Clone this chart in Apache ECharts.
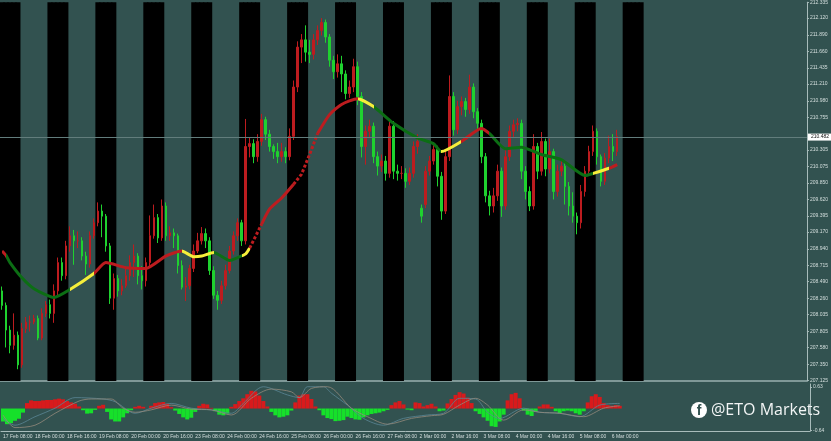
<!DOCTYPE html>
<html><head><meta charset="utf-8">
<style>html,body{margin:0;padding:0;background:#325250}#c{width:831px;height:441px}</style>
<script src="https://cdn.jsdelivr.net/npm/echarts@6/dist/echarts.min.js"></script>
</head><body><div id="c"></div>
<script>
const closes=[208.16,207.82,207.61,207.75,207.34,207.84,207.93,207.93,207.98,207.71,208.05,208.17,208.05,208.36,208.75,208.57,208.98,209.12,209.05,209.05,208.84,208.73,209.12,209.30,209.46,209.39,208.98,208.26,208.53,208.36,208.43,208.57,208.75,208.84,208.57,208.50,208.75,209.12,209.37,209.09,209.53,209.12,209.16,209.12,208.71,208.41,208.43,208.67,208.91,209.05,209.15,209.05,208.64,208.30,208.23,208.43,208.64,208.91,209.12,209.30,209.05,210.35,210.39,210.21,210.42,210.72,210.52,210.35,210.28,210.21,210.28,210.21,210.49,211.17,211.72,211.82,211.65,211.62,211.82,211.95,212.06,211.86,211.54,211.38,211.49,211.35,211.08,211.17,211.45,211.04,210.35,210.56,210.63,210.21,210.08,210.15,209.98,210.63,210.01,209.98,209.98,209.87,209.98,210.35,210.42,209.39,210.01,210.15,210.31,209.94,209.46,210.21,211.04,210.58,210.90,210.97,210.86,211.17,210.83,210.67,210.21,209.67,209.53,209.67,210.01,209.53,210.21,210.56,210.65,210.67,210.01,209.73,209.53,210.35,210.01,210.42,210.04,210.28,209.73,210.01,210.08,209.80,209.53,209.39,209.30,209.73,210.01,210.28,210.56,210.21,209.87,210.19,210.35,210.28,210.49];
const opens=[208.36,208.16,207.82,207.61,207.75,207.34,207.84,207.93,207.93,207.98,207.71,208.05,208.17,208.05,208.36,208.75,208.57,208.98,209.12,209.05,209.05,208.84,208.73,209.12,209.30,209.46,209.39,208.98,208.26,208.53,208.36,208.43,208.57,208.75,208.84,208.57,208.50,208.75,209.12,209.37,209.09,209.53,209.12,209.16,209.12,208.71,208.41,208.43,208.67,208.91,209.05,209.15,209.05,208.64,208.30,208.23,208.43,208.64,208.91,209.12,209.30,209.05,210.35,210.39,210.21,210.42,210.72,210.52,210.35,210.28,210.21,210.28,210.21,210.49,211.17,211.72,211.82,211.65,211.62,211.82,211.95,212.06,211.86,211.54,211.38,211.49,211.35,211.08,211.17,211.45,211.04,210.35,210.56,210.63,210.21,210.08,210.15,209.98,210.63,210.01,209.98,209.98,209.87,209.98,210.35,209.50,209.55,210.01,210.15,210.31,209.94,209.46,210.21,211.04,210.58,210.90,210.97,210.86,211.17,210.83,210.67,210.21,209.67,209.53,209.67,210.01,209.53,210.21,210.56,210.65,210.67,210.01,209.73,209.53,210.35,210.01,210.42,210.04,210.28,209.73,210.01,210.08,209.80,209.53,209.39,209.30,209.73,210.01,210.28,210.56,210.21,209.87,210.19,210.35,210.28];
const highs=[208.42,208.20,207.88,208.05,207.80,207.92,208.00,208.02,208.03,208.02,208.12,208.22,208.24,208.45,208.82,208.82,209.05,209.25,209.20,209.18,209.10,208.90,209.18,209.36,209.58,209.55,209.42,209.02,208.60,208.58,208.52,208.68,208.85,209.00,208.88,208.70,208.82,209.40,209.55,209.42,209.62,209.58,209.25,209.22,209.15,208.78,208.55,208.72,209.00,209.16,209.24,209.22,209.10,208.70,208.36,208.50,208.72,208.98,209.18,209.36,209.34,210.73,210.48,210.45,210.52,210.80,210.76,210.58,210.38,210.40,210.40,210.34,210.60,211.26,211.80,211.90,212.02,211.82,211.90,212.02,212.12,212.10,211.90,211.60,211.62,211.60,211.40,211.26,211.56,211.52,211.10,210.64,210.72,210.68,210.28,210.24,210.22,210.72,210.70,210.10,210.08,210.05,210.06,210.42,210.52,209.55,210.08,210.22,210.38,210.36,210.00,210.30,211.33,211.10,210.98,211.04,211.02,211.34,211.22,210.88,210.72,210.26,209.74,209.78,210.10,210.06,210.30,210.64,210.72,210.74,210.72,210.08,209.80,210.52,210.40,210.55,210.46,210.46,210.32,210.10,210.16,210.12,209.86,209.72,209.44,209.82,210.08,210.36,210.64,210.60,210.24,210.26,210.50,210.52,210.58];
const lows=[208.10,207.58,207.50,207.55,207.28,207.30,207.78,207.80,207.90,207.68,207.68,208.00,207.98,207.92,208.30,208.50,208.52,208.90,208.72,208.95,208.78,208.58,208.68,209.08,209.25,209.10,208.90,208.18,208.10,208.28,208.30,208.40,208.50,208.55,208.45,208.38,208.42,208.70,209.08,209.02,209.05,209.05,209.05,208.95,208.60,208.38,208.22,208.38,208.62,208.88,209.00,208.95,208.58,208.25,208.10,208.18,208.38,208.60,208.86,209.05,208.98,209.00,210.20,210.12,210.14,210.36,210.44,210.28,210.18,210.12,210.14,210.12,210.16,210.44,211.10,211.50,211.52,211.50,211.55,211.75,211.88,211.78,211.45,211.28,211.30,211.10,211.00,211.02,211.10,210.92,210.20,210.10,210.48,210.12,209.95,210.00,209.88,209.92,209.90,209.88,209.90,209.78,209.82,209.92,210.25,209.30,209.50,209.95,210.10,209.80,209.34,209.42,210.15,210.50,210.52,210.78,210.76,210.80,210.74,210.58,210.12,209.58,209.40,209.44,209.60,209.38,209.48,210.15,210.48,210.56,209.90,209.62,209.46,209.48,209.90,209.95,209.94,209.98,209.62,209.66,209.94,209.55,209.40,209.30,209.14,209.22,209.66,209.96,210.22,210.10,209.80,209.82,210.12,210.15,210.22];
const maIndex=[0,1,2,5,8,13,17,23,26,31,36,41,45,48,50,53,57,59,61,62,63,65,67,70,73,74,79,82,85,89,93,98,104,108,110,115,120,122,126,130,135,140,146,148,152,154];
const maValues=[208.91,208.85,208.75,208.54,208.39,208.27,208.38,208.60,208.75,208.68,208.67,208.84,208.91,208.83,208.84,208.89,208.78,208.82,208.87,208.95,null,209.28,209.49,209.64,209.83,null,210.53,210.79,210.93,211.01,210.90,210.67,210.47,210.39,210.28,210.42,210.60,210.53,210.32,210.34,210.24,210.17,209.95,209.98,210.05,210.10];
const maDotIndexA=[62,65];
const maDotValuesA=[208.95,209.28];
const maDotIndexB=[73,75,77,79];
const maDotValuesB=[209.83,209.97,210.24,210.53];
const histogram=[-.38,-.46,-.43,-.36,-.30,-.12,.16,.24,.22,.22,.24,.25,.25,.27,.29,.27,.22,.18,.14,.06,-.05,-.15,-.14,-.04,.08,.11,-.10,-.32,-.38,-.38,-.26,-.14,-.05,.05,.08,.05,0,.08,.16,.18,.19,.14,.04,-.06,-.16,-.26,-.32,-.27,-.10,.08,.14,.12,.02,-.08,-.18,-.20,-.15,.05,.13,.22,.30,.42,.52,.50,.38,.22,.06,-.10,-.20,-.26,-.24,-.20,-.06,.18,.38,.42,.42,.28,.06,-.05,-.20,-.28,-.31,-.37,-.36,-.34,-.24,-.28,-.32,-.33,-.26,-.20,-.16,-.14,-.12,-.08,-.04,.10,.18,.22,.12,-.03,-.05,.18,.16,.06,.10,.14,.06,-.08,-.06,.15,.28,.40,.48,.44,.32,.16,-.08,-.16,-.26,-.36,-.52,-.54,-.38,-.18,.24,.42,.46,.30,-.06,-.18,-.22,-.10,.06,.12,.12,.05,-.08,-.14,-.08,-.06,-.08,-.14,-.18,-.08,.18,.36,.42,.34,.16,.10,.08,.10,.08];
const macdIndex=[0,3,8,13,18,25,28,33,37,42,47,52,57,60,65,71,74,76,80,82,86,90,95,100,106,110,114,118,121,124,130,134,139,144,149,154];
const macdValues=[-.29,-.49,-.24,.01,.32,.28,.20,-.14,.01,.15,.01,-.04,-.14,.15,.64,.40,.32,.64,.64,.45,.10,-.29,-.49,-.29,-.19,-.14,.30,.28,-.11,-.29,.01,-.11,-.14,-.24,.10,.15];
const signalIndex=[0,3,8,13,19,22,27,30,33,37,42,47,52,57,62,67,72,74,77,81,87,91,96,102,107,110,114,118,121,125,130,134,139,145,150,154];
const signalValues=[-.19,-.56,-.49,-.14,.22,.28,.28,.01,-.11,-.04,.10,-.02,-.04,-.19,.30,.57,.49,.32,.59,.64,.01,-.24,-.46,-.29,-.21,-.17,.10,.30,.10,-.34,-.04,-.11,-.14,-.24,.01,.08];
const priceTicks=[212.335,212.120,211.890,211.660,211.435,211.210,210.980,210.755,210.305,210.075,209.850,209.620,209.395,209.170,208.940,208.715,208.490,208.260,208.035,207.805,207.580,207.350,207.125];
const lastPrice=210.482;
const oscTicks=[0.63,-0.64];
const timeLabels=['17 Feb 08:00','18 Feb 00:00','18 Feb 16:00','19 Feb 08:00','20 Feb 00:00','20 Feb 16:00','23 Feb 08:00','24 Feb 00:00','24 Feb 16:00','25 Feb 08:00','26 Feb 00:00','26 Feb 16:00','27 Feb 08:00','2 Mar 00:00','2 Mar 16:00','3 Mar 08:00','4 Mar 00:00','4 Mar 16:00','5 Mar 08:00','6 Mar 00:00'];
const nightStarts=[0,12,24,36,48,60,72,84,96,108,120,132,144,156];
const nightLength=5, slotCount=202, priceMin=207.118, priceMax=212.339;

const categories=Array.from({length:slotCount},(_,i)=>i%8===0&&timeLabels[i/8]?timeLabels[i/8]:'');
const nights=categories.map(()=>null);
nightStarts.forEach(s=>{for(let k=0;k<nightLength;k++)nights[s+k]=priceMax;});
const candle=closes.map((c,i)=>[opens[i],c,lows[i],highs[i]]);
const zip=(a,b)=>a.map((v,i)=>[v,b[i]]);
const RED='#bd1c1f',GREEN='#1fd12f',AX='#a8bcbb',TXT='#d5dfde',FONT='"Liberation Sans"',YEL='#f5ee3a',DKG='#0c6e14';
const maPieces=[[0,0.7,RED],[0.7,1.2,YEL],[1.2,17,DKG],[17,23,YEL],[23,45,RED],[45,53,YEL],[53,60,DKG],[60,62,YEL],[62,89,RED],[89,93,YEL],[93,110,DKG],[110,115,YEL],[115,122,RED],[122,148,DKG],[148,152,YEL],[152,155,RED]];
const dotted=(ix,vals)=>({type:'line',xAxisIndex:0,yAxisIndex:0,data:zip(ix,vals),showSymbol:false,lineStyle:{width:3,color:RED,type:[3,2]},z:4});

const chart=echarts.init(document.getElementById('c'),null,{renderer:'canvas'});
chart.setOption({
 animation:false,backgroundColor:'#325250',
 textStyle:{fontFamily:FONT},
 grid:[{left:0,top:0,width:810,height:381},{left:0,top:384,width:810,height:47}],
 xAxis:[
  {type:'category',gridIndex:0,data:categories,boundaryGap:true,axisLabel:{show:false},axisTick:{show:false},splitLine:{show:false},axisLine:{lineStyle:{color:'#7f9897',width:2}}},
  {type:'category',gridIndex:1,data:categories,boundaryGap:true,axisTick:{show:false},splitLine:{show:false},axisLine:{onZero:false,lineStyle:{color:AX,width:1}},
   axisLabel:{interval:7,align:'left',margin:3,fontSize:5,color:TXT,fontFamily:FONT}}
 ],
 yAxis:[
  {type:'value',gridIndex:0,position:'right',min:priceMin,max:priceMax,splitLine:{show:false},
   axisLine:{show:true,lineStyle:{color:AX}},axisTick:{show:true,length:2,customValues:priceTicks,lineStyle:{color:AX}},
   axisLabel:{customValues:priceTicks,margin:3,fontSize:5,color:TXT,fontFamily:FONT,formatter:v=>v.toFixed(3)}},
  {type:'value',gridIndex:1,position:'right',min:-0.66,max:0.72,splitLine:{show:false},
   axisLine:{show:true,lineStyle:{color:AX}},axisTick:{show:true,length:2,customValues:oscTicks,lineStyle:{color:AX}},
   axisLabel:{customValues:oscTicks,margin:3,fontSize:5,color:TXT,fontFamily:FONT,formatter:v=>v.toFixed(2)}}
 ],
 visualMap:[{show:false,type:'piecewise',seriesIndex:2,dimension:0,pieces:maPieces.map(p=>({gte:p[0],lt:p[1],color:p[2]}))}],
 series:[
  {type:'bar',xAxisIndex:0,yAxisIndex:0,data:nights,barWidth:'125%',itemStyle:{color:'#000'},silent:true,z:1},
  {type:'candlestick',xAxisIndex:0,yAxisIndex:0,data:candle,barWidth:2,z:3,
   itemStyle:{color:RED,color0:GREEN,borderColor:RED,borderColor0:GREEN,borderWidth:1},
   markLine:{symbol:'none',silent:true,animation:false,lineStyle:{color:'#627d7c',width:1,type:'solid'},
    label:{position:'end',distance:1,formatter:lastPrice.toFixed(3),fontSize:5,color:'#111',backgroundColor:'#fff',padding:[1,3],fontFamily:FONT},
    data:[{yAxis:lastPrice}]}},
  {type:'line',xAxisIndex:0,yAxisIndex:0,data:zip(maIndex,maValues),smooth:0.2,showSymbol:false,lineStyle:{width:3},z:4},
  {type:'bar',xAxisIndex:1,yAxisIndex:1,data:histogram.map(v=>({value:v,itemStyle:{color:v>=0?'#d81a1c':'#16e02a'}})),barWidth:4,z:2},
  {type:'line',xAxisIndex:1,yAxisIndex:1,data:zip(macdIndex,macdValues),smooth:0.3,showSymbol:false,itemStyle:{color:'#5b8796'},lineStyle:{width:0.8,color:'#5b8796'},z:3},
  {type:'line',xAxisIndex:1,yAxisIndex:1,data:zip(signalIndex,signalValues),smooth:0.3,showSymbol:false,itemStyle:{color:'#93897b'},lineStyle:{width:0.8,color:'#93897b'},z:3},
  dotted(maDotIndexA,maDotValuesA),
  dotted(maDotIndexB,maDotValuesB)
 ],
 graphic:[
  {type:'circle',shape:{cx:699,cy:410,r:8},style:{fill:'#fff'},z:20},
  {type:'text',x:699,y:411,style:{text:'f',fill:'#325250',font:'bold 14px "Liberation Sans"',align:'center',verticalAlign:'middle'},z:21},
  {type:'text',x:711,y:410,style:{text:'@ETO Markets',fill:'#f2f5f5',font:'16px "Open Sans"',align:'left',verticalAlign:'middle'},z:20}
 ]
});
</script></body></html>
